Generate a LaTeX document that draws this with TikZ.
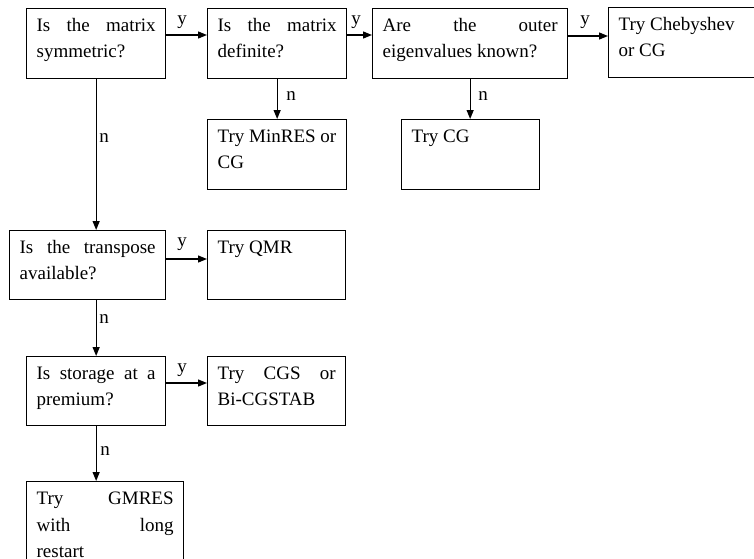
\documentclass[tikz,border=0pt]{standalone}
\usepackage{fontspec}
\setmainfont{Liberation Serif}
\usetikzlibrary{arrows.meta}
\newcommand\bxt[4][26]{\parbox[t][#3pt][t]{#2pt}{\fontsize{19}{#1}\selectfont\rule{0pt}{23pt}#4}}
\begin{document}
\begin{tikzpicture}[x=1pt,y=-1pt,
  box/.style={draw, line width=1.3pt, anchor=north west, inner xsep=10pt, inner ysep=0pt},
  lab/.style={font=\fontsize{19}{22}\selectfont, inner sep=0pt},
  arr/.style={line width=1.3pt, -{Triangle[length=9pt,width=7pt]}}]
\path[use as bounding box] (0,0) rectangle (754,558);
\clip (0,0) rectangle (754,558);
\node[box] (A) at (26,8)   {\bxt{119}{70}{Is\hfill the\hfill matrix\\ symmetric?}};
\node[box] (B) at (207,8)  {\bxt{119}{70}{Is\hfill the\hfill matrix\\ definite?}};
\node[box] (C) at (372,8)  {\bxt{175}{70}{Are\hfill the\hfill outer\\ eigenvalues known?}};
\node[box] (D) at (608,7)  {\bxt{150}{70}{Try Chebyshev\\ or CG}};
\node[box] (E) at (207,119){\bxt{119}{70}{Try MinRES or\\ CG}};
\node[box] (F) at (401,119){\bxt{118}{70}{Try CG}};
\node[box] (G) at (9,230)  {\bxt{136}{69}{Is\hfill the\hfill transpose\\ available?}};
\node[box] (H) at (207,230){\bxt{118}{69}{Try QMR}};
\node[box] (I) at (26,356) {\bxt{119}{69}{Is\hfill storage\hfill at\hfill a\\ premium?}};
\node[box] (J) at (207,356){\bxt{118}{69}{Try\hfill CGS\hfill or\\ Bi-CGSTAB}};
\node[box] (K) at (26,481) {\bxt[26.5]{137}{100}{Try\hfill GMRES\\ with\hfill long\\ restart}};

\draw[arr] ([yshift=-27pt]A.north east) -- ([yshift=-27pt]A.north east -| B.west);
\draw[arr] ([yshift=-27pt]B.north east) -- ([yshift=-27pt]B.north east -| C.west);
\draw[arr] ([yshift=-28pt]C.north east) -- ([yshift=-28pt]C.north east -| D.west);
\draw[arr] (A.south) -- (A.south |- G.north);
\draw[arr] (B.south) -- (B.south |- E.north);
\draw[arr] (C.south) -- (C.south |- F.north);
\draw[arr] ([yshift=-29pt]G.north east) -- ([yshift=-29pt]G.north east -| H.west);
\draw[arr] (G.south -| I.north) -- (I.north);
\draw[arr] ([yshift=-27pt]I.north east) -- ([yshift=-27pt]I.north east -| J.west);
\draw[arr] (I.south) -- (I.south |- K.north);

\node[lab] (l1) at (182,22) {y};
\node[lab] (l2) at (356,22) {y};
\node[lab] (l3) at (585,22) {y};
\node[lab] (l4) at (182,244) {y};
\node[lab] (l5) at (182,370) {y};
\node[lab] (l6) at (104,138) {n};
\node[lab] (l7) at (291,96) {n};
\node[lab] (l8) at (483,96) {n};
\node[lab] (l9) at (104,319) {n};
\node[lab] (l10) at (105,451) {n};
\end{tikzpicture}
\end{document}
